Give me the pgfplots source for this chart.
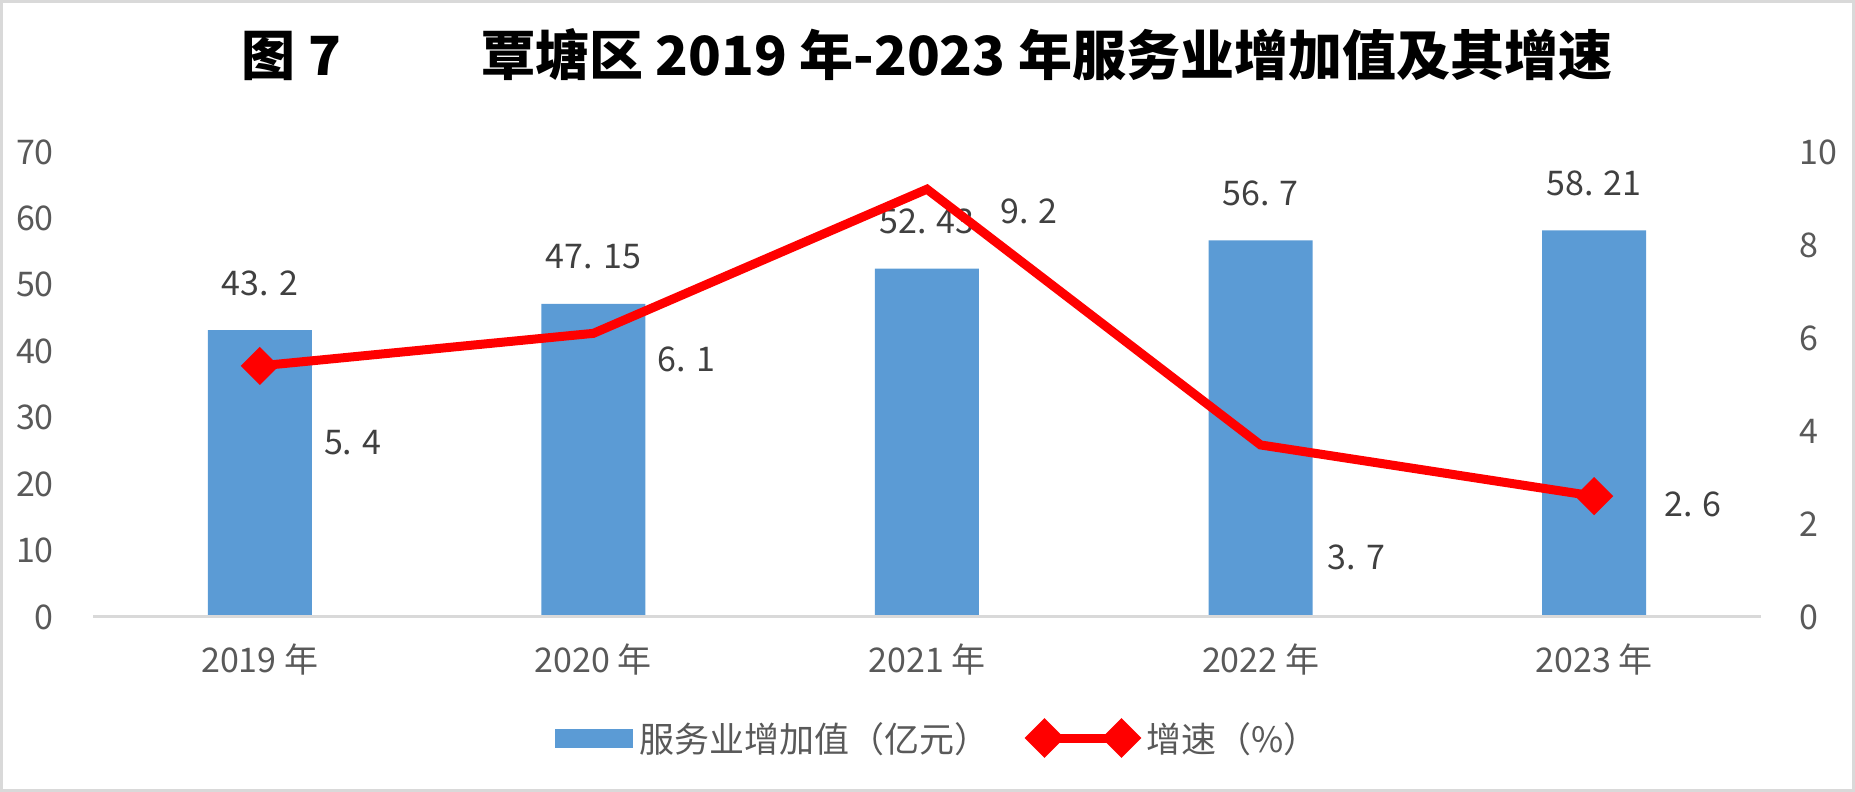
\documentclass[border=0pt]{standalone}
\usepackage{pgfplots}
\pgfplotsset{compat=1.18}
\usepackage{fontspec}
\setmainfont{Noto Sans CJK SC}
\definecolor{barblue}{HTML}{5B9BD5}
\definecolor{linered}{HTML}{FF0000}
\definecolor{axgray}{HTML}{D9D9D9}
\definecolor{tickgray}{HTML}{595959}
\definecolor{lblgray}{HTML}{404040}
\tikzset{lbl/.style={font=\fontsize{34}{40}\selectfont, text=lblgray, inner sep=0pt, anchor=center}}
\begin{document}
\begin{tikzpicture}[x=1pt,y=1pt]
\useasboundingbox (0,0) rectangle (1855,792);
\draw[axgray, line width=3pt] (1.5,1.5) rectangle (1853.5,790.5);
\node[font=\fontsize{54}{60}\selectfont\bfseries, text=black, inner sep=0pt] at (927,737) {图 7\hspace{140pt}覃塘区 2019 年-2023 年服务业增加值及其增速};

\begin{axis}[
  at={(93pt,175pt)}, anchor=south west,
  scale only axis, width=1668pt, height=465pt,
  xmin=-0.5, xmax=4.5, ymin=0, ymax=70,
  axis line style={draw=none},
  major tick length=0pt,
  xtick={0,...,4},
  xticklabels={2019 年,2020 年,2021 年,2022 年,2023 年},
  ytick={0,10,...,70},
  /pgf/number format/assume math mode=true,
  ticklabel style={font=\fontsize{34}{40}\selectfont, text=tickgray, inner sep=0pt},
  yticklabel style={anchor=east, xshift=-39pt},
  xticklabel style={anchor=center, yshift=-43pt},
  clip=false,
  ybar, bar width=104pt,
]
\addplot[fill=barblue, draw=none,
   point meta=explicit symbolic,
   nodes near coords,
   every node near coord/.style={lbl, yshift=47pt}]
  coordinates {(0,43.2)[43. 2] (1,47.15)[47. 15] (2,52.43)[52. 43] (3,56.7)[56. 7] (4,58.21)[58. 21]};
\draw[axgray, line width=3pt] (axis cs:-0.5,0) -- (axis cs:4.5,0);
\end{axis}

\begin{axis}[
  at={(93pt,175pt)}, anchor=south west,
  scale only axis, width=1668pt, height=465pt,
  xmin=-0.5, xmax=4.5, ymin=0, ymax=10,
  axis line style={draw=none},
  major tick length=0pt,
  xtick=\empty,
  ytick={0,2,...,10},
  yticklabel pos=right,
  /pgf/number format/assume math mode=true,
  ticklabel style={font=\fontsize{34}{40}\selectfont, text=tickgray, inner sep=0pt},
  yticklabel style={anchor=west, xshift=38pt},
  clip=false,
  legend columns=2,
  legend style={draw=none, fill=none, at={(axis description cs:0.506,0)}, anchor=center, yshift=-121pt,
    font=\fontsize{35}{40}\selectfont, text=tickgray,
    nodes={inner sep=0pt},
    /tikz/every odd column/.append style={column sep=7pt},
    /tikz/every even column/.append style={column sep=37pt}},
]
\addlegendimage{legend image code/.code={\fill[barblue] (0pt,-9pt) rectangle (77pt,9pt);}}
\addlegendentry{服务业增加值（亿元）}
\addplot[linered, line width=9pt, mark=square*, mark size=9pt, mark indices={1,5},
   mark options={rotate=45, draw=none, fill=linered},
   legend image code/.code={
     \draw[linered, line width=9pt] (13.5pt,0pt) -- (90.5pt,0pt);
     \fill[linered] (0pt,0pt) -- (13.5pt,13.5pt) -- (27pt,0pt) -- (13.5pt,-13.5pt) -- cycle;
     \fill[linered] (77pt,0pt) -- (90.5pt,13.5pt) -- (104pt,0pt) -- (90.5pt,-13.5pt) -- cycle;
   }]
  coordinates {(0,5.4) (1,6.1) (2,9.2) (3,3.7) (4,2.6)};
\addlegendentry{增速（\%）}
\node[lbl, xshift=93pt, yshift=-77pt] at (axis cs:0,5.4) {5. 4};
\node[lbl, xshift=93pt, yshift=-26pt] at (axis cs:1,6.1) {6. 1};
\node[lbl, xshift=102pt, yshift=-22pt] at (axis cs:2,9.2) {9. 2};
\node[lbl, xshift=96pt, yshift=-112pt] at (axis cs:3,3.7) {3. 7};
\node[lbl, xshift=99pt, yshift=-8pt] at (axis cs:4,2.6) {2. 6};
\end{axis}
\end{tikzpicture}
\end{document}
